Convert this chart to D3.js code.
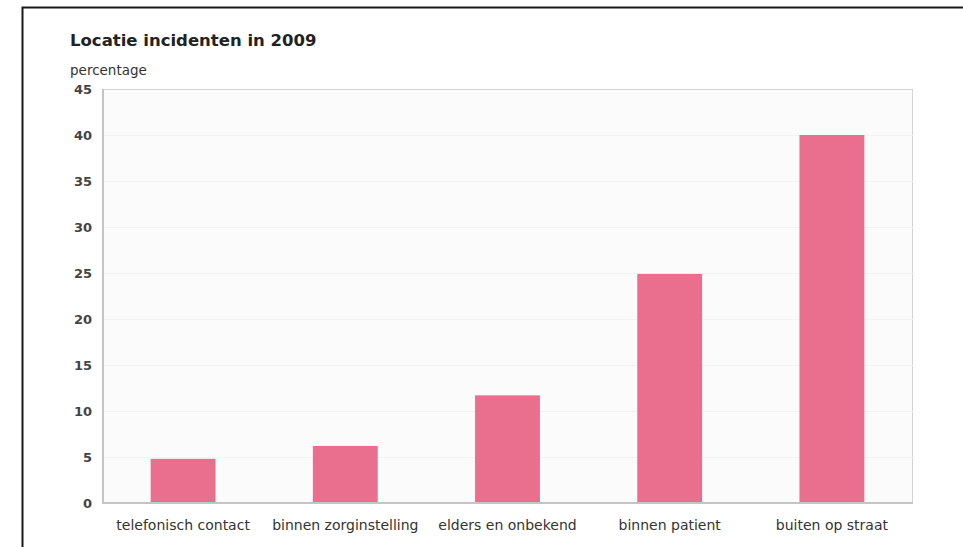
<!DOCTYPE html>
<html>
<head>
<meta charset="utf-8">
<script src="https://cdn.jsdelivr.net/npm/d3@7"></script>
<style>
  html, body { margin: 0; padding: 0; background: #fff; }
  svg { display: block; }
</style>
</head>
<body>
<svg id="chart" width="963" height="547"></svg>
<script>
// Locatie incidenten in 2009 (percentages)
const categories = ["telefonisch contact", "binnen zorginstelling", "elders en onbekend", "binnen patient", "buiten op straat"];
const values = [4.8, 6.2, 11.7, 24.9, 40];
const yTicks = [0, 5, 10, 15, 20, 25, 30, 35, 40, 45];

const svg = d3.select("#chart");
const W = 963, H = 547;
const plot = { left: 102, top: 89, right: 913, bottom: 503 };
const font = "DejaVu Sans, Verdana, sans-serif";

// outer frame (top and left edges)
svg.append("path")
  .attr("d", `M22.5,${H} V7.5 H${W}`)
  .attr("fill", "none")
  .attr("stroke", "#1a1a1a")
  .attr("stroke-width", 2);

svg.append("text")
  .attr("x", 70).attr("y", 46)
  .attr("font-family", font).attr("font-size", 16.5).attr("font-weight", "bold")
  .attr("fill", "#222")
  .text("Locatie incidenten in 2009");

svg.append("text")
  .attr("x", 70).attr("y", 75)
  .attr("font-family", font).attr("font-size", 13.5)
  .attr("fill", "#333")
  .text("percentage");

const x = d3.scaleBand()
  .domain(categories)
  .range([plot.left, plot.right])
  .paddingInner(0.6)
  .paddingOuter(0.3);

const y = d3.scaleLinear()
  .domain([0, 45])
  .range([plot.bottom, plot.top]);

// plot background and frame
svg.append("rect")
  .attr("x", plot.left + 0.5).attr("y", plot.top + 0.5)
  .attr("width", plot.right - plot.left - 1).attr("height", plot.bottom - plot.top - 1)
  .attr("fill", "#fbfbfb")
  .attr("stroke", "#d4d4d4")
  .attr("stroke-width", 1);

// faint horizontal grid
svg.append("g")
  .selectAll("line")
  .data(yTicks.slice(1, -1))
  .join("line")
  .attr("x1", plot.left).attr("x2", plot.right)
  .attr("y1", d => Math.round(y(d)) + 0.5).attr("y2", d => Math.round(y(d)) + 0.5)
  .attr("stroke", "#f3f3f3");

// bars
svg.append("g")
  .selectAll("rect")
  .data(values)
  .join("rect")
  .attr("x", (d, i) => x(categories[i]))
  .attr("y", d => y(d))
  .attr("width", x.bandwidth())
  .attr("height", d => y(0) - y(d))
  .attr("fill", "#ea6f8f");

// left and bottom axis lines
svg.append("path")
  .attr("d", `M${plot.left + 1},${plot.top} V${plot.bottom} H${plot.right}`)
  .attr("fill", "none")
  .attr("stroke", "#c4c4c4")
  .attr("stroke-width", 2);

// y axis
const yAxis = svg.append("g")
  .attr("transform", `translate(${plot.left - 10},0)`)
  .call(d3.axisLeft(y).tickValues(yTicks).tickSize(0).tickPadding(0));
yAxis.select(".domain").remove();
yAxis.selectAll("text")
  .attr("font-family", font).attr("font-size", 13).attr("font-weight", "bold")
  .attr("fill", "#444");

// x axis
const xAxis = svg.append("g")
  .attr("transform", `translate(0,${plot.bottom})`)
  .call(d3.axisBottom(x).tickSize(0).tickPadding(17));
xAxis.select(".domain").remove();
xAxis.selectAll("text")
  .attr("font-family", font).attr("font-size", 14)
  .attr("fill", "#333");
</script>
</body>
</html>
